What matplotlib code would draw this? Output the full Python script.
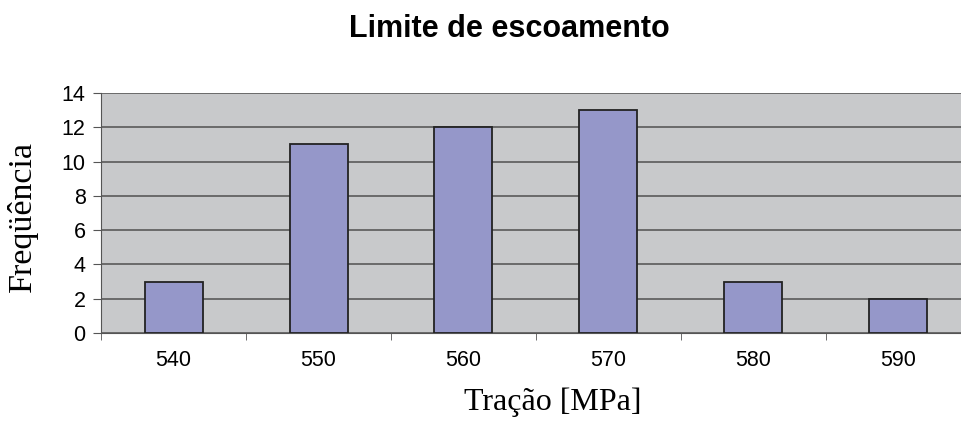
import matplotlib
matplotlib.use("Agg")
import matplotlib.pyplot as plt
import numpy as np

categories = ["540", "550", "560", "570", "580", "590"]
frequencies = [3, 11, 12, 13, 3, 2]
yticks = [0, 2, 4, 6, 8, 10, 12, 14]

fig = plt.figure(figsize=(9.62, 4.23), dpi=100)
W, H = 962, 423
left, right, top, bottom = 101, 971, 93, 333
ax = fig.add_axes([left / W, 1 - bottom / H, (right - left) / W, (bottom - top) / H])
ax.set_facecolor("#c8c9cb")

x = np.arange(len(categories))
ax.set_axisbelow(True)
ax.yaxis.grid(True, color="#505050", linewidth=1.1)
ax.bar(x, frequencies, width=0.4, color="#9597c9", edgecolor="#222222", linewidth=1.3, zorder=3)

ax.set_xlim(-0.5, len(categories) - 0.5)
ax.set_ylim(0, 14)
ax.set_yticks(yticks)
ax.set_yticklabels([str(v) for v in yticks], fontsize=15.5, family="Liberation Sans")

ax.set_xticks(x)
ax.set_xticklabels(categories, fontsize=15.5, family="Liberation Sans")
ax.tick_params(axis="x", which="major", length=0, pad=12)
ax.set_xticks(np.arange(-0.5, len(categories)), minor=True)
ax.tick_params(axis="x", which="minor", length=5, color="#555555", direction="out")
ax.tick_params(axis="y", length=6, color="#555555", direction="out", pad=5)

for s in ["top", "right"]:
    ax.spines[s].set_visible(False)
ax.spines["left"].set_color("#555555")
ax.spines["bottom"].set_color("#555555")

fig.text(509 / W, 1 - 29 / H, "Limite de escoamento", ha="center", va="center",
         fontsize=22, fontweight="bold", family="Liberation Sans")
fig.text(22 / W, 1 - 216 / H, "Freqüência", ha="center", va="center", rotation=90,
         fontsize=24.5, family="Liberation Serif")
fig.text(553 / W, 1 - 402 / H, "Tração [MPa]", ha="center", va="center",
         fontsize=23, family="Liberation Serif")

fig.savefig("out.png", dpi=100)
